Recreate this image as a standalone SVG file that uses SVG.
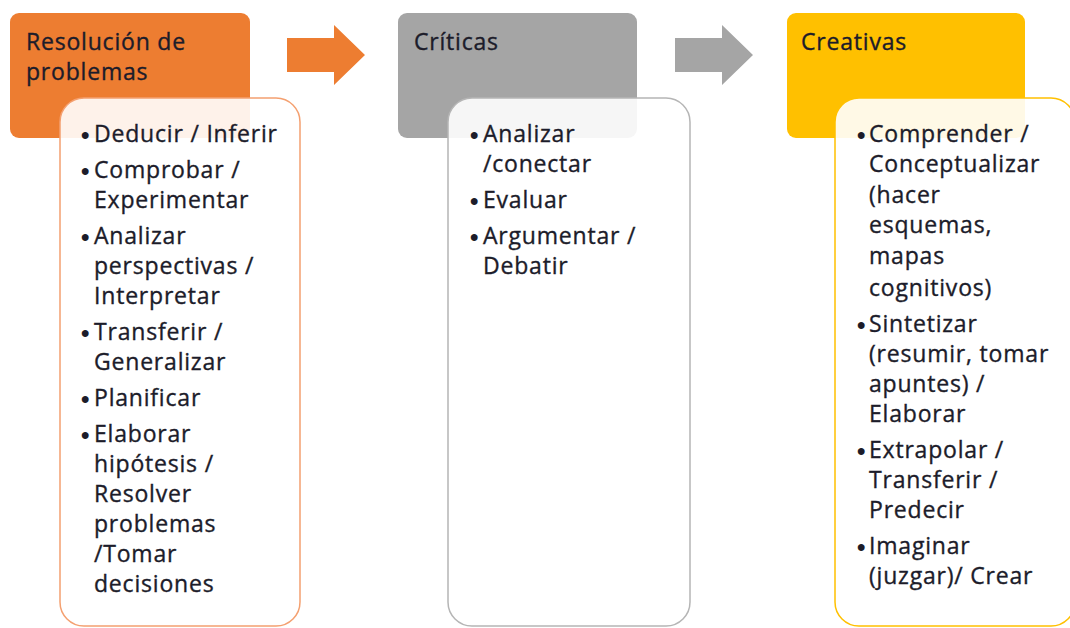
<svg xmlns="http://www.w3.org/2000/svg" width="1070" height="628" viewBox="0 0 1070 628">
<style>
.t{font-family:"Open Sans","Liberation Sans",Arial,sans-serif;font-size:23px;letter-spacing:0.8px;fill:#1c1c2a;stroke:#1c1c2a;stroke-width:0.35px}
.b{font-family:"Liberation Sans",Arial,sans-serif;font-size:24px;font-weight:bold;fill:#1c1c2a}
.inner{fill:#ffffff;fill-opacity:0.9;stroke-width:1.5}
</style>
<rect width="1070" height="628" fill="#ffffff"/>
<g id="connectors">
<polygon points="287,38 334,38 334,25 365,55 334,85 334,72 287,72" fill="#ED7D31"/>
<polygon points="675,38 722,38 722,25 753,55 722,85 722,72 675,72" fill="#A5A5A5"/>
</g>
<g id="node-resolucion">
<rect x="10" y="13" width="240" height="125" rx="9" fill="#ED7D31"/>
<text class="t" x="26" y="50">Resolución de</text>
<text class="t" x="26" y="80">problemas</text>
<rect class="inner" x="60" y="98" width="240" height="528" rx="24" stroke="#F4A070"/>
<text class="b" x="81" y="143">•</text><text class="t" x="94" y="142">Deducir / Inferir</text>
<text class="b" x="81" y="179">•</text><text class="t" x="94" y="178">Comprobar /</text>
<text class="t" x="94" y="208">Experimentar</text>
<text class="b" x="81" y="245">•</text><text class="t" x="94" y="244">Analizar</text>
<text class="t" x="94" y="274">perspectivas /</text>
<text class="t" x="94" y="304">Interpretar</text>
<text class="b" x="81" y="341">•</text><text class="t" x="94" y="340">Transferir /</text>
<text class="t" x="94" y="370">Generalizar</text>
<text class="b" x="81" y="407">•</text><text class="t" x="94" y="406">Planificar</text>
<text class="b" x="81" y="443">•</text><text class="t" x="94" y="442">Elaborar</text>
<text class="t" x="94" y="472">hipótesis /</text>
<text class="t" x="94" y="502">Resolver</text>
<text class="t" x="94" y="532">problemas</text>
<text class="t" x="94" y="562">/Tomar</text>
<text class="t" x="94" y="592">decisiones</text>
</g>
<g id="node-criticas">
<rect x="398" y="13" width="239" height="125" rx="9" fill="#A5A5A5"/>
<text class="t" x="414" y="50">Críticas</text>
<rect class="inner" x="448" y="98" width="242" height="528" rx="24" stroke="#B5B5B5"/>
<text class="b" x="470" y="143">•</text><text class="t" x="483" y="142">Analizar</text>
<text class="t" x="483" y="172">/conectar</text>
<text class="b" x="470" y="209">•</text><text class="t" x="483" y="208">Evaluar</text>
<text class="b" x="470" y="245">•</text><text class="t" x="483" y="244">Argumentar /</text>
<text class="t" x="483" y="274">Debatir</text>
</g>
<g id="node-creativas">
<rect x="787" y="13" width="238" height="125" rx="9" fill="#FFC000"/>
<text class="t" x="801" y="50">Creativas</text>
<rect class="inner" x="835" y="98" width="240" height="528" rx="24" stroke="#FFC000"/>
<text class="b" x="857" y="143">•</text><text class="t" x="869" y="142">Comprender /</text>
<text class="t" x="869" y="172">Conceptualizar</text>
<text class="t" x="869" y="203">(hacer</text>
<text class="t" x="869" y="233">esquemas,</text>
<text class="t" x="869" y="264">mapas</text>
<text class="t" x="869" y="296">cognitivos)</text>
<text class="b" x="857" y="333">•</text><text class="t" x="869" y="332">Sintetizar</text>
<text class="t" x="869" y="362">(resumir, tomar</text>
<text class="t" x="869" y="392">apuntes) /</text>
<text class="t" x="869" y="422">Elaborar</text>
<text class="b" x="857" y="459">•</text><text class="t" x="869" y="458">Extrapolar /</text>
<text class="t" x="869" y="488">Transferir /</text>
<text class="t" x="869" y="518">Predecir</text>
<text class="b" x="857" y="555">•</text><text class="t" x="869" y="554">Imaginar</text>
<text class="t" x="869" y="584">(juzgar)/ Crear</text>
</g>
</svg>
